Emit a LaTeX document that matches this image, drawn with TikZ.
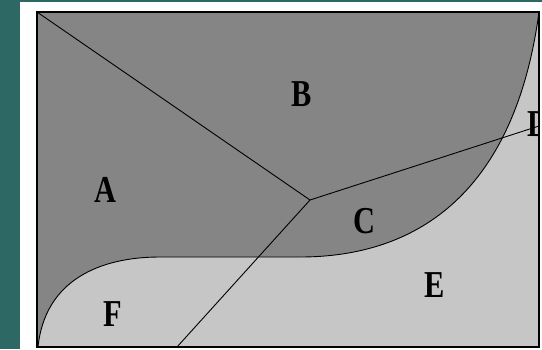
\documentclass[tikz,border=0pt]{standalone}
\usepackage{fontspec}
\setmainfont{Liberation Serif}
\definecolor{teal}{RGB}{45,104,101}
\definecolor{darkreg}{RGB}{133,133,133}
\definecolor{lightreg}{RGB}{198,198,198}
\tikzset{
  region/.style={font=\fontsize{38}{38}\bfseries\selectfont,inner sep=0pt},
  border/.style={line width=0.9pt,black}
}
\newcommand{\narrow}[1]{\scalebox{0.8}[1]{#1}}

\begin{document}
\begin{tikzpicture}[x=1pt,y=-1pt]
    \useasboundingbox (0,0) rectangle (542,349);
    \fill[teal] (0,0) rectangle (542,349);
    \fill[white] (20,2) rectangle (542,349);

    \coordinate (TL) at (37,12);
    \coordinate (TR) at (539,12);
    \coordinate (BR) at (539,347);
    \coordinate (BL) at (37,347);
    \coordinate (J) at (310,200);
    \coordinate (Dend) at (539,126);
    \coordinate (Fend) at (177,347);

    \fill[lightreg] (TL) rectangle (BR);
    \fill[darkreg] (38,347) .. controls (45,280) and (100,257) .. (160,257)
        -- (300,257) .. controls (420,257) and (515,190) .. (TR)
        -- (TL) -- (BL) -- cycle;
    \draw[border] (38,347) .. controls (45,280) and (100,257) .. (160,257)
        -- (300,257) .. controls (420,257) and (515,190) .. (TR);

    \draw[border] (TL) -- (J);
    \draw[border] (J) -- (Dend);
    \draw[border] (J) -- (Fend);

    \node[region] (A) at (105,190) {\narrow{A}};
    \node[region] (B) at (302,94) {\narrow{B}};
    \node[region] (C) at (364,221) {\narrow{C}};
    \node[region] (E) at (435,285) {\narrow{E}};
    \node[region] (F) at (113,314) {\narrow{F}};
    \begin{scope}
        \clip (TL) rectangle (BR);
        \node[region] (D) at (538,124) {\narrow{D}};
    \end{scope}

    \draw[line width=1.8pt] (TL) rectangle (BR);
\end{tikzpicture}
\end{document}
